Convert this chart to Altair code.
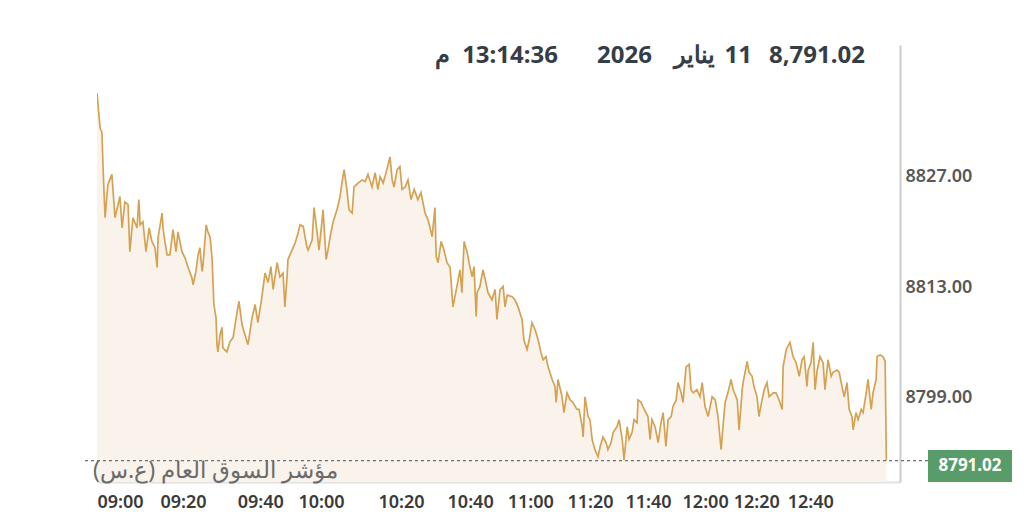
import altair as alt
import pandas as pd

# sample position along the session (chart's index axis) and index level
idx = [0.0, 1.0, 1.6, 1.9, 2.3, 2.6, 3.5, 4.8, 5.2, 5.8, 7.4, 8.1, 9.0, 10.0, 10.6, 11.6, 12.9, 13.5, 13.9, 14.8,
       15.8, 16.8, 17.7, 18.7, 19.4, 19.7, 21.0, 21.3, 21.9, 22.6, 23.5, 24.5, 25.5, 26.1, 27.4, 28.4, 29.4, 30.6,
       31.0, 31.9, 32.6, 33.2, 33.9, 34.2, 35.2, 35.8, 36.5, 37.1, 37.7, 38.4, 38.7, 39.0, 39.7, 40.3, 40.6, 41.9,
       42.9, 43.9, 45.2, 45.8, 46.8, 47.7, 48.7, 50.0, 51.0, 51.9, 53.2, 54.2, 55.2, 56.1, 56.8, 58.1, 59.0, 60.0,
       60.6, 61.3, 61.6, 62.9, 63.9, 64.8, 65.5, 66.5, 67.1, 67.7, 68.1, 69.4, 70.0, 71.0, 71.6, 72.6, 72.9, 73.9,
       74.5, 75.2, 76.1, 77.4, 78.4, 79.0, 79.7, 80.6, 81.3, 82.3, 82.9, 84.2, 85.5, 86.5, 87.4, 88.7, 89.7, 90.6,
       91.3, 92.3, 93.5, 94.5, 95.2, 95.8, 96.8, 97.7, 98.4, 99.4, 100.3, 101.3, 102.3, 103.5, 104.5, 105.8, 106.8,
       108.1, 109.0, 109.4, 110.0, 111.0, 111.9, 112.9, 113.9, 114.8, 116.1, 117.1, 117.7, 118.4, 119.4, 120.0,
       121.0, 121.6, 122.3, 122.6, 123.5, 124.5, 125.2, 126.1, 127.4, 128.4, 129.0, 130.0, 131.0, 131.6, 132.3,
       133.9, 134.8, 135.8, 137.1, 137.7, 138.7, 139.4, 140.3, 141.3, 142.3, 143.2, 143.9, 144.8, 145.5, 146.8,
       147.7, 148.1, 148.7, 150.0, 150.6, 151.6, 152.6, 153.5, 154.8, 155.5, 156.5, 156.8, 157.4, 158.4, 159.0,
       159.7, 160.6, 161.6, 162.3, 163.2, 164.2, 164.8, 165.8, 166.5, 167.7, 168.4, 169.4, 170.0, 171.0, 171.6,
       172.6, 173.2, 174.2, 174.5, 175.5, 176.5, 177.7, 178.4, 179.0, 180.0, 181.0, 181.9, 182.6, 183.5, 184.2,
       185.2, 185.8, 186.8, 187.4, 188.4, 189.0, 190.0, 191.0, 191.6, 192.3, 193.5, 194.5, 195.2, 196.1, 197.1,
       198.4, 199.4, 200.3, 201.3, 201.9, 202.6, 203.5, 204.5, 205.2, 206.5, 207.1, 208.1, 208.4, 209.7, 210.3,
       211.3, 211.9, 212.9, 213.5, 214.5, 215.2, 216.1, 216.8, 218.1, 219.0, 220.0, 221.0, 221.3, 222.3, 223.5,
       224.5, 225.5, 226.5, 227.4, 228.1, 229.0, 229.4, 230.3, 231.0, 231.6, 232.3, 233.2, 234.2, 234.8, 235.8,
       236.8, 237.4, 238.7, 239.4, 240.3, 241.0, 241.9, 242.6, 243.5, 243.9, 244.8, 245.5, 246.5, 247.1, 248.1,
       248.7, 249.7, 250.3, 251.3, 251.6, 252.6, 253.5, 254.2, 254.6]

price = [8837.6, 8833.2, 8832.6, 8828.8, 8824.7, 8821.8, 8826.0, 8827.3, 8825.1, 8821.8, 8824.5, 8820.5, 8823.8,
         8823.5, 8817.5, 8821.8, 8820.5, 8824.1, 8820.9, 8821.3, 8817.5, 8820.5, 8818.8, 8818.0, 8815.5, 8819.3,
         8822.4, 8820.5, 8818.8, 8817.1, 8817.1, 8820.3, 8817.5, 8820.0, 8817.5, 8816.7, 8815.5, 8814.2, 8813.3,
         8815.0, 8817.1, 8818.0, 8815.0, 8815.8, 8820.9, 8820.0, 8819.3, 8816.7, 8810.8, 8809.1, 8805.7, 8804.8,
         8807.0, 8807.9, 8805.3, 8804.8, 8806.1, 8806.6, 8809.9, 8811.2, 8808.2, 8807.0, 8805.7, 8809.1, 8810.8,
         8808.5, 8811.8, 8814.8, 8813.6, 8815.6, 8812.7, 8816.1, 8814.3, 8814.8, 8810.5, 8814.3, 8816.5, 8817.7,
         8818.6, 8819.8, 8820.9, 8820.7, 8819.4, 8818.1, 8817.7, 8819.0, 8823.1, 8819.9, 8817.7, 8821.5, 8822.8,
         8816.5, 8817.7, 8819.4, 8821.2, 8822.8, 8824.5, 8826.2, 8827.9, 8825.4, 8822.8, 8822.4, 8825.7, 8826.2,
         8826.6, 8826.4, 8827.3, 8825.7, 8827.5, 8825.4, 8827.0, 8826.2, 8827.9, 8829.5, 8826.6, 8825.7, 8827.9,
         8828.3, 8825.4, 8825.7, 8826.6, 8824.1, 8825.4, 8824.1, 8825.0, 8822.4, 8821.5, 8819.4, 8823.1, 8816.9,
         8816.1, 8818.8, 8817.7, 8816.1, 8815.5, 8810.5, 8813.1, 8815.2, 8812.3, 8818.8, 8817.4, 8816.1, 8814.3,
         8815.6, 8809.3, 8812.3, 8813.1, 8815.2, 8814.0, 8812.3, 8811.4, 8812.7, 8808.9, 8812.7, 8813.1, 8810.5,
         8812.0, 8811.8, 8811.4, 8810.5, 8808.9, 8806.3, 8805.1, 8806.3, 8808.5, 8807.6, 8806.3, 8804.7, 8803.8,
         8804.2, 8802.9, 8801.3, 8800.4, 8798.4, 8801.3, 8799.1, 8797.1, 8799.6, 8798.7, 8798.4, 8797.5, 8797.5,
         8795.3, 8794.0, 8799.1, 8796.6, 8796.2, 8793.7, 8792.4, 8791.5, 8792.8, 8794.0, 8793.3, 8792.4, 8793.3,
         8794.6, 8795.3, 8796.2, 8793.7, 8791.1, 8795.3, 8793.7, 8794.6, 8796.2, 8795.8, 8798.7, 8798.4, 8797.5,
         8796.6, 8793.7, 8796.2, 8795.3, 8793.3, 8795.8, 8797.1, 8792.8, 8796.2, 8796.6, 8797.9, 8798.7, 8800.9,
         8799.6, 8798.4, 8802.9, 8803.2, 8800.0, 8799.6, 8800.0, 8799.1, 8800.9, 8797.9, 8796.6, 8799.1, 8798.7,
         8796.6, 8792.4, 8795.3, 8798.4, 8799.6, 8801.3, 8800.0, 8798.7, 8794.9, 8800.0, 8800.9, 8803.6, 8802.2,
         8801.7, 8800.4, 8799.1, 8796.6, 8798.7, 8800.0, 8800.9, 8799.1, 8799.6, 8799.6, 8798.7, 8797.5, 8802.9,
         8805.1, 8806.0, 8804.2, 8803.4, 8801.7, 8803.8, 8804.2, 8800.4, 8802.5, 8803.4, 8806.0, 8800.0, 8802.5,
         8804.2, 8803.4, 8800.0, 8803.8, 8801.7, 8802.2, 8802.5, 8802.2, 8800.4, 8799.1, 8800.9, 8797.5, 8796.6,
         8794.9, 8797.1, 8796.2, 8797.5, 8797.1, 8799.6, 8801.3, 8797.5, 8799.6, 8801.3, 8804.2, 8804.4, 8804.2,
         8803.6, 8791.02]

tick_pos = [0, 20.3, 45.2, 64.8, 90.6, 112.9, 132.3, 151.6, 170.3, 188.7, 205.2, 222.6]
tick_labels = ["09:00", "09:20", "09:40", "10:00", "10:20", "10:40", "11:00", "11:20", "11:40", "12:00",
               "12:20", "12:40"]
y_ticks = [8799, 8813, 8827]
last_price = 8791.02
last_label = "8791.02"
title_price = "8,791.02"
title_day = "11"
title_month = "يناير"
title_year = "2026"
title_clock = "13:14:36"
title_ampm = "م"
index_name = "مؤشر السوق العام (ع.س)"

df = pd.DataFrame({"idx": idx, "price": price})

FONT = "Noto Sans"
label_expr = "[" + ",".join("'%s'" % t for t in tick_labels) + "][indexof([" + \
    ",".join(str(p) for p in tick_pos) + "], datum.value)]"

x_enc = alt.X("idx:Q", title=None,
              scale=alt.Scale(domain=[0, 259], nice=False, zero=False),
              axis=alt.Axis(values=tick_pos, labelExpr=label_expr, labelAlign="left",
                            labelFont=FONT, labelFontSize=18, labelFontWeight=600,
                            labelColor="#3a3a3a", labelPadding=11, ticks=False, grid=False,
                            domainColor="#e2e2e2", domainWidth=2, labelFlush=False,
                            labelOverlap=False))
y_scale = alt.Scale(domain=[8788.3, 8843.7], nice=False, zero=False)
y_enc = alt.Y("price:Q", title=None, scale=y_scale,
              axis=alt.Axis(orient="right", values=y_ticks, format=".2f", ticks=False, grid=False,
                            labelFont=FONT, labelFontSize=18, labelFontWeight=600,
                            labelColor="#585858", labelPadding=5, domainColor="#cccccc",
                            domainWidth=2))

area = alt.Chart(df).mark_area(color="#faf3ec", clip=True).encode(x=x_enc, y=y_enc)
line = alt.Chart(df).mark_line(color="#d5a253", strokeWidth=1.7, clip=True).encode(x=x_enc, y=y_enc)

one = pd.DataFrame({"k": [0]})
rule = alt.Chart(one).mark_rule(color="#707070", strokeDash=[3, 3], strokeWidth=1.3).encode(
    x=alt.value(-12), x2=alt.value(831), y=alt.datum(last_price, scale=y_scale))

box = alt.Chart(one).mark_rect(color="#589d69").encode(
    x=alt.value(831), x2=alt.value(915),
    y=alt.datum(8792.35, scale=y_scale), y2=alt.datum(8788.3))
box_text = alt.Chart(one).mark_text(color="white", font=FONT, fontSize=17, fontWeight="bold",
                                    align="center", baseline="middle").encode(
    x=alt.value(873), y=alt.datum(8790.35, scale=y_scale), text=alt.value(last_label))

name_text = alt.Chart(one).mark_text(color="#6b6b6b", font=FONT, fontSize=23, align="right",
                                     baseline="middle", dir="rtl").encode(
    x=alt.value(241), y=alt.value(426), text=alt.value(index_name))


def title_piece(txt, xpos, align):
    return alt.Chart(one).mark_text(color="#353d47", font=FONT, fontSize=24, fontWeight="bold",
                                    align=align, baseline="middle").encode(
        x=alt.value(xpos), y=alt.value(11), text=alt.value(txt))


titles = [
    title_piece(title_price, 768, "right"),
    title_piece(title_day, 655, "right"),
    title_piece(title_month, 597, "center"),
    title_piece(title_year, 500, "left"),
    title_piece(title_clock, 461, "right"),
    title_piece(title_ampm, 353, "right"),
]

chart = alt.layer(area, line, rule, box, box_text, name_text, *titles).properties(
    width=803, height=437,
    autosize=alt.AutoSizeParams(type="none"),
    padding={"left": 89, "top": 37, "right": 116, "bottom": 30},
    background="white",
).configure_view(stroke=None)

chart.save("out.html", embed_options={"renderer": "svg", "actions": False})
